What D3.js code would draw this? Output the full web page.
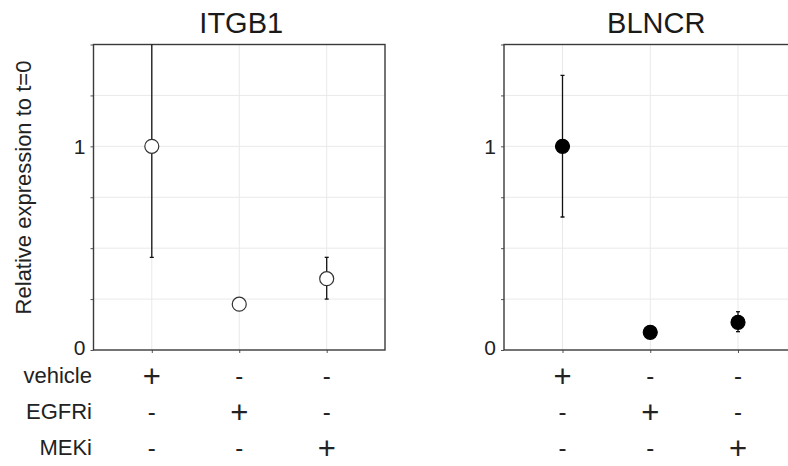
<!DOCTYPE html>
<html><head><meta charset="utf-8">
<script src="https://cdn.jsdelivr.net/npm/d3@7"></script>
<style>body{margin:0;background:#fff;}svg{display:block;font-family:"Liberation Sans",Arial,sans-serif;}</style>
</head><body>
<script>
const categories = ["vehicle", "EGFRi", "MEKi"];
const genes = ["ITGB1", "BLNCR"];
const itgb1Mean = [1.0, 0.225, 0.35];
const itgb1Low = [0.455, 0.225, 0.25];
const itgb1High = [1.56, 0.225, 0.455];
const blncrMean = [1.0, 0.087, 0.136];
const blncrLow = [0.653, 0.087, 0.09];
const blncrHigh = [1.348, 0.087, 0.188];
const yTickLabels = [0, 1];
const yMinorTicks = [0, 0.25, 0.5, 0.75, 1, 1.25, 1.5];
const treatment = [["+", "-", "-"], ["-", "+", "-"], ["-", "-", "+"]];
const yLabel = "Relative expression to t=0";

const W = 788, H = 466;
const svg = d3.select("body").append("svg").attr("width", W).attr("height", H);

const panels = [
  {name: genes[0], x0: 93.5, x1: 385, mean: itgb1Mean, lo: itgb1Low, hi: itgb1High, filled: false, titleDx: 2},
  {name: genes[1], x0: 504, x1: 796.5, mean: blncrMean, lo: blncrLow, hi: blncrHigh, filled: true, titleDx: 6}
];
const yTop = 44.5, yBot = 350;
const y = d3.scaleLinear().domain([0, 1.5]).range([yBot, yTop]);

panels.forEach((p, pi) => {
  const x = d3.scaleLinear().domain([1/3, 11/3]).range([p.x0, p.x1]);
  const g = svg.append("g");
  const clipId = "clip" + pi;
  svg.append("clipPath").attr("id", clipId).append("rect")
    .attr("x", p.x0).attr("y", yTop).attr("width", p.x1 - p.x0).attr("height", yBot - yTop);

  // grid
  g.append("g").selectAll("line.h").data(yMinorTicks.slice(1, -1)).join("line")
    .attr("x1", p.x0).attr("x2", p.x1).attr("y1", d => y(d)).attr("y2", d => y(d))
    .attr("stroke", "#e9e9e9").attr("stroke-width", 1);
  g.append("g").selectAll("line.v").data([1, 2, 3]).join("line")
    .attr("x1", d => x(d)).attr("x2", d => x(d)).attr("y1", yTop).attr("y2", yBot)
    .attr("stroke", "#e9e9e9").attr("stroke-width", 1);

  // y axis
  const ya = d3.axisLeft(y).tickValues(yMinorTicks).tickSize(3).tickFormat("");
  const yg = g.append("g").attr("transform", `translate(${p.x0},0)`).call(ya);
  yg.select(".domain").remove();
  yg.selectAll(".tick line").attr("stroke", "#555");
  g.append("g").selectAll("text").data(yTickLabels).join("text")
    .attr("x", p.x0 - 8).attr("y", d => y(d) - (d === 0 ? 3 : 0))
    .attr("text-anchor", "end").attr("dominant-baseline", "central")
    .attr("font-size", 21).attr("fill", "#222").text(d => d);

  // x axis ticks
  const xa = d3.axisBottom(x).tickValues([1, 2, 3]).tickSize(3).tickFormat("");
  const xg = g.append("g").attr("transform", `translate(0,${yBot})`).call(xa);
  xg.select(".domain").remove();
  xg.selectAll(".tick line").attr("stroke", "#555");

  // box
  g.append("rect").attr("x", p.x0).attr("y", yTop).attr("width", p.x1 - p.x0).attr("height", yBot - yTop)
    .attr("fill", "none").attr("stroke", "#3a3a3a").attr("stroke-width", 1.4);

  // title
  svg.append("text").attr("x", x(2) + p.titleDx).attr("y", 33).attr("text-anchor", "middle")
    .attr("font-size", 29).attr("fill", "#1a1a1a").text(p.name);

  // error bars
  const eg = g.append("g").attr("clip-path", `url(#${clipId})`);
  const idx = [0, 1, 2];
  eg.selectAll("line.eb").data(idx).join("line")
    .attr("x1", i => x(i + 1)).attr("x2", i => x(i + 1))
    .attr("y1", i => y(p.lo[i])).attr("y2", i => y(p.hi[i]))
    .attr("stroke", "#111").attr("stroke-width", 1.3);
  ["lo", "hi"].forEach(k => {
    eg.selectAll("line.cap" + k).data(idx.filter(i => p.hi[i] - p.lo[i] > 0.01)).join("line")
      .attr("x1", i => x(i + 1) - 2).attr("x2", i => x(i + 1) + 2)
      .attr("y1", i => y(p[k][i])).attr("y2", i => y(p[k][i]))
      .attr("stroke", "#111").attr("stroke-width", 1.3);
  });
  eg.selectAll("circle").data(idx).join("circle")
    .attr("cx", i => x(i + 1)).attr("cy", i => y(p.mean[i])).attr("r", 7)
    .attr("fill", p.filled ? "#000" : "#fff")
    .attr("stroke", p.filled ? "#000" : "#333").attr("stroke-width", 1.2);

  // treatment table
  const rowY = [375, 411, 447];
  treatment.forEach((row, ri) => {
    svg.append("g").selectAll("text").data(row).join("text")
      .attr("x", (d, ci) => x(ci + 1)).attr("y", d => rowY[ri] + (d === "+" ? 1 : 0))
      .attr("text-anchor", "middle").attr("dominant-baseline", "central")
      .attr("font-size", d => d === "+" ? 31 : 24).attr("fill", "#222").text(d => d);
  });
  if (pi === 0) {
    svg.append("g").selectAll("text").data(categories).join("text")
      .attr("x", 92).attr("y", (d, i) => rowY[i]).attr("text-anchor", "end")
      .attr("dominant-baseline", "central").attr("font-size", 22).attr("fill", "#222").text(d => d);
  }
});

svg.append("text").attr("transform", `translate(31,${187.5}) rotate(-90)`)
  .attr("text-anchor", "middle").attr("font-size", 22).attr("fill", "#222").text(yLabel);
</script>
</body></html>
